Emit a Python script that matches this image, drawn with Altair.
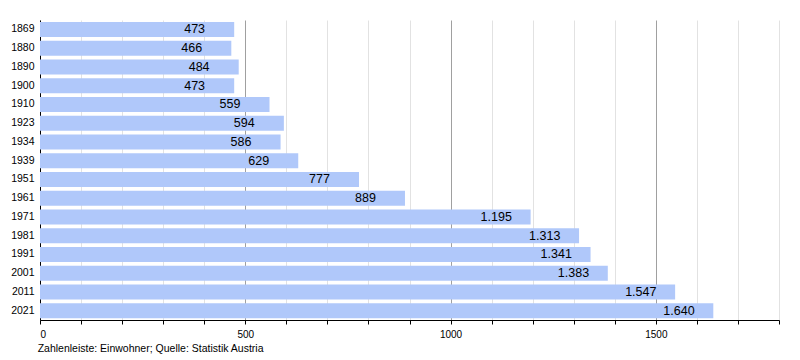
import altair as alt
import pandas as pd

years = ["1869", "1880", "1890", "1900", "1910", "1923", "1934", "1939", "1951",
         "1961", "1971", "1981", "1991", "2001", "2011", "2021"]
population = [473, 466, 484, 473, 559, 594, 586, 629, 777, 889, 1195, 1313,
              1341, 1383, 1547, 1640]

df = pd.DataFrame({"year": years, "pop": population})
df["label"] = [f"{v:,}".replace(",", ".") for v in population]

x = alt.X("pop:Q",
          scale=alt.Scale(domain=[0, 1800], nice=False, zero=True),
          axis=alt.Axis(title=None, values=list(range(0, 1801, 100)),
                        labelExpr="datum.value % 500 === 0 && datum.value < 1800 ? datum.label : ''",
                        format="d",
                        grid=True,
                        gridColor=alt.condition("datum.value % 500 === 0", alt.value("#a0a0a0"), alt.value("#e2e2e2")),
                        domainColor="black", tickColor="black", tickSize=4,
                        labelFont="Liberation Sans", labelFontSize=10, labelColor="black",
                        labelPadding=5))
y = alt.Y("year:N", sort=years,
          scale=alt.Scale(paddingInner=0.2, paddingOuter=0.1),
          axis=alt.Axis(title=None, ticks=False, domainColor="black",
                        labelFont="Liberation Sans", labelFontSize=10.5,
                        labelColor="black", labelPadding=6, grid=False))

bars = alt.Chart(df).mark_bar(color="#b0c8fa").encode(x=x, y=y)
text = alt.Chart(df).mark_text(align="left", baseline="middle", dx=-50,
                               font="Liberation Sans", fontSize=12.5,
                               color="black").encode(
    x=alt.X("pop:Q"), y=alt.Y("year:N", sort=years), text="label:N")

chart = (bars + text).properties(
    width=739, height=300,
    autosize=alt.AutoSizeParams(type="none"),
    padding={"left": 32, "top": 12, "right": 13, "bottom": 40},
    title=alt.TitleParams("Zahlenleiste: Einwohner; Quelle: Statistik Austria",
                          orient="bottom", anchor="start", fontSize=10.5,
                          font="Liberation Sans", fontWeight="normal",
                          color="black", offset=5, dx=27),
).configure_view(stroke=None)

chart.save("out.html", embed_options={"renderer": "svg", "actions": False})
